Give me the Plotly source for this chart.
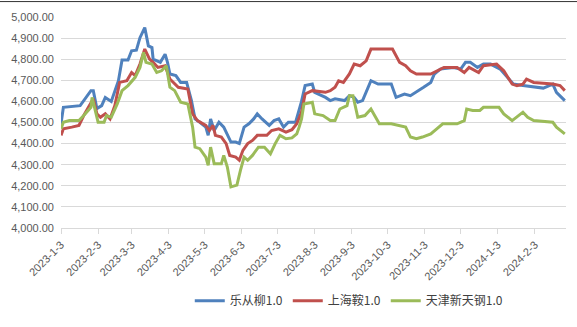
import plotly.graph_objects as go

# ---------------- data ----------------
blue_name = "乐从柳1.0"
blue_dates = ["2023-01-03","2023-01-05","2023-01-19","2023-01-28","2023-01-30","2023-02-02","2023-02-06",
              "2023-02-09","2023-02-14","2023-02-20","2023-02-23","2023-02-28","2023-03-03","2023-03-07",
              "2023-03-10","2023-03-14","2023-03-17","2023-03-20","2023-03-21","2023-03-27","2023-03-31",
              "2023-04-02","2023-04-04","2023-04-09","2023-04-13","2023-04-18","2023-04-22","2023-04-25",
              "2023-04-29","2023-05-04","2023-05-06","2023-05-08","2023-05-11","2023-05-15","2023-05-19",
              "2023-05-22","2023-05-25","2023-05-29","2023-06-01","2023-06-05","2023-06-09","2023-06-13",
              "2023-06-16","2023-06-20","2023-06-26","2023-06-30","2023-07-04","2023-07-08","2023-07-12",
              "2023-07-18","2023-07-21","2023-07-23","2023-07-26","2023-08-01","2023-08-03","2023-08-12",
              "2023-08-16","2023-08-20","2023-08-28","2023-09-01","2023-09-05","2023-09-08","2023-09-12",
              "2023-09-19","2023-09-25","2023-10-06","2023-10-10","2023-10-17","2023-10-22","2023-10-28",
              "2023-11-02","2023-11-08","2023-11-11","2023-11-16","2023-11-27","2023-12-03","2023-12-07",
              "2023-12-11","2023-12-17","2023-12-22","2023-12-28","2024-01-05","2024-01-11","2024-01-16",
              "2024-01-24","2024-01-30","2024-02-10","2024-02-18","2024-02-21","2024-02-28"]
blue_values = [4494,4572,4580,4651,4651,4566,4580,
               4619,4600,4698,4796,4796,4840,4843,
               4902,4950,4863,4855,4800,4785,4824,
               4785,4730,4722,4690,4690,4604,4517,
               4501,4478,4439,4517,4462,4501,4478,
               4439,4407,4407,4400,4478,4494,4517,
               4541,4517,4486,4509,4517,4478,4501,
               4501,4557,4600,4675,4682,4643,4619,
               4604,4612,4604,4627,4619,4596,4604,
               4698,4682,4682,4619,4635,4627,4651,
               4667,4690,4730,4753,4761,4753,4785,
               4785,4761,4777,4777,4753,4714,4682,
               4675,4670,4663,4682,4643,4604]

red_name = "上海鞍1.0"
red_dates = ["2023-01-03","2023-01-05","2023-01-12","2023-01-18","2023-01-22","2023-01-28","2023-01-30",
             "2023-02-02","2023-02-05","2023-02-09","2023-02-13","2023-02-17","2023-02-21","2023-02-27",
             "2023-03-03","2023-03-06","2023-03-10","2023-03-14","2023-03-18","2023-03-21","2023-03-25",
             "2023-03-31","2023-04-04","2023-04-11","2023-04-19","2023-04-23","2023-04-27","2023-05-04",
             "2023-05-07","2023-05-10","2023-05-12","2023-05-17","2023-05-21","2023-05-24","2023-05-29",
             "2023-06-01","2023-06-04","2023-06-08","2023-06-12","2023-06-16","2023-06-24","2023-06-28",
             "2023-07-04","2023-07-10","2023-07-15","2023-07-19","2023-07-21","2023-07-23","2023-07-26",
             "2023-08-01","2023-08-12","2023-08-16","2023-08-20","2023-08-23","2023-08-27","2023-09-01",
             "2023-09-05","2023-09-10","2023-09-15","2023-09-19","2023-09-28","2023-10-07","2023-10-13",
             "2023-10-18","2023-10-22","2023-10-27","2023-11-08","2023-11-13","2023-11-19","2023-11-30",
             "2023-12-06","2023-12-10","2023-12-18","2023-12-22","2024-01-02","2024-01-08","2024-01-15",
             "2024-01-19","2024-01-24","2024-01-27","2024-02-02","2024-02-18","2024-02-24","2024-02-28"]
red_values = [4439,4470,4478,4486,4533,4588,4612,
              4541,4525,4541,4517,4580,4690,4698,
              4737,4722,4777,4848,4800,4785,4761,
              4769,4706,4667,4659,4541,4509,4486,
              4462,4486,4439,4431,4400,4344,4336,
              4321,4368,4400,4415,4439,4439,4462,
              4470,4454,4466,4494,4525,4549,4635,
              4651,4643,4651,4667,4698,4690,4730,
              4777,4769,4792,4848,4848,4848,4785,
              4769,4745,4730,4730,4745,4761,4761,
              4737,4761,4737,4769,4777,4745,4682,
              4675,4682,4706,4690,4682,4675,4651]

green_name = "天津新天钢1.0"
green_dates = ["2023-01-03","2023-01-05","2023-01-10","2023-01-18","2023-01-22","2023-01-28","2023-01-29",
               "2023-02-03","2023-02-08","2023-02-10","2023-02-14","2023-02-19","2023-02-23","2023-02-28",
               "2023-03-06","2023-03-10","2023-03-13","2023-03-15","2023-03-20","2023-03-24","2023-03-28",
               "2023-04-01","2023-04-04","2023-04-08","2023-04-13","2023-04-19","2023-04-23","2023-04-25",
               "2023-04-29","2023-05-04","2023-05-06","2023-05-08","2023-05-11","2023-05-17","2023-05-19",
               "2023-05-22","2023-05-25","2023-05-30","2023-06-02","2023-06-05","2023-06-08","2023-06-12",
               "2023-06-17","2023-06-22","2023-06-27","2023-07-01","2023-07-05","2023-07-10","2023-07-15",
               "2023-07-19","2023-07-21","2023-07-23","2023-07-25","2023-08-01","2023-08-03","2023-08-10",
               "2023-08-16","2023-08-20","2023-08-24","2023-08-30","2023-09-01","2023-09-04","2023-09-08",
               "2023-09-14","2023-09-19","2023-09-26","2023-10-06","2023-10-11","2023-10-18","2023-10-22",
               "2023-10-27","2023-11-01","2023-11-08","2023-11-13","2023-11-18","2023-11-30","2023-12-06",
               "2023-12-08","2023-12-13","2023-12-19","2023-12-22","2024-01-04","2024-01-08","2024-01-15",
               "2024-01-24","2024-01-28","2024-02-02","2024-02-18","2024-02-21","2024-02-28"]
green_values = [4470,4501,4509,4509,4533,4572,4619,
                4501,4501,4533,4525,4588,4651,4675,
                4714,4761,4832,4785,4777,4737,4745,
                4769,4667,4651,4596,4588,4478,4383,
                4376,4336,4297,4383,4305,4305,4344,
                4289,4195,4203,4274,4336,4321,4344,
                4383,4383,4352,4400,4439,4423,4427,
                4446,4478,4517,4588,4596,4541,4533,
                4509,4509,4564,4580,4627,4627,4525,
                4533,4564,4494,4494,4486,4478,4431,
                4423,4431,4446,4470,4494,4494,4509,
                4564,4557,4557,4572,4572,4541,4509,
                4549,4525,4509,4501,4478,4446]

tick_dates = ["2023-01-03","2023-02-03","2023-03-03","2023-04-03","2023-05-03","2023-06-03",
              "2023-07-03","2023-08-03","2023-09-03","2023-10-03","2023-11-03","2023-12-03",
              "2024-01-03","2024-02-03"]
tick_labels = ["2023-1-3","2023-2-3","2023-3-3","2023-4-3","2023-5-3","2023-6-3",
               "2023-7-3","2023-8-3","2023-9-3","2023-10-3","2023-11-3","2023-12-3",
               "2024-1-3","2024-2-3"]
y_ticks = [4000, 4100, 4200, 4300, 4400, 4500, 4600, 4700, 4800, 4900, 5000]

# ---------------- figure ----------------
colors = {"blue": "#4F81BD", "red": "#C0504D", "green": "#9BBB59"}
fig = go.Figure()
for name, xs, ys, c in [(blue_name, blue_dates, blue_values, colors["blue"]),
                        (red_name, red_dates, red_values, colors["red"]),
                        (green_name, green_dates, green_values, colors["green"])]:
    fig.add_trace(go.Scatter(x=xs, y=ys, name=name, mode="lines",
                             line=dict(color=c, width=3)))

fig.update_layout(
    width=577, height=327,
    margin=dict(l=57, r=11, t=16, b=99),
    paper_bgcolor="white", plot_bgcolor="white",
    font=dict(family="Liberation Sans, Arial, sans-serif", size=11, color="#595959"),
    showlegend=True,
    legend=dict(orientation="h", x=0.255, xanchor="left", y=-0.345, yanchor="middle",
                font=dict(family="Noto Sans CJK SC, sans-serif", size=12, color="#404040"),
                itemwidth=30, tracegroupgap=0, bgcolor="rgba(0,0,0,0)"),
    xaxis=dict(type="date", range=["2023-01-03", "2024-02-29"],
               tickmode="array", tickvals=tick_dates, ticktext=tick_labels,
               tickangle=-45, ticks="outside", ticklen=5, tickcolor="#D9D9D9",
               showline=True, linecolor="#D9D9D9", linewidth=1,
               showgrid=False, zeroline=False,
               tickfont=dict(size=11, color="#595959")),
    yaxis=dict(range=[4000, 5000], tickmode="array", tickvals=y_ticks,
               tickformat=",.2f", showgrid=True, gridcolor="#D9D9D9", gridwidth=1,
               zeroline=False, showline=False, ticks="", ticklabelstandoff=6,
               tickfont=dict(size=11, color="#595959")),
)
fig.add_shape(type="line", xref="paper", yref="paper", x0=-0.2, x1=1.1,
              y0=1 + 15.5 / 212, y1=1 + 15.5 / 212, line=dict(color="#333333", width=1))

fig.write_html("out.html")
